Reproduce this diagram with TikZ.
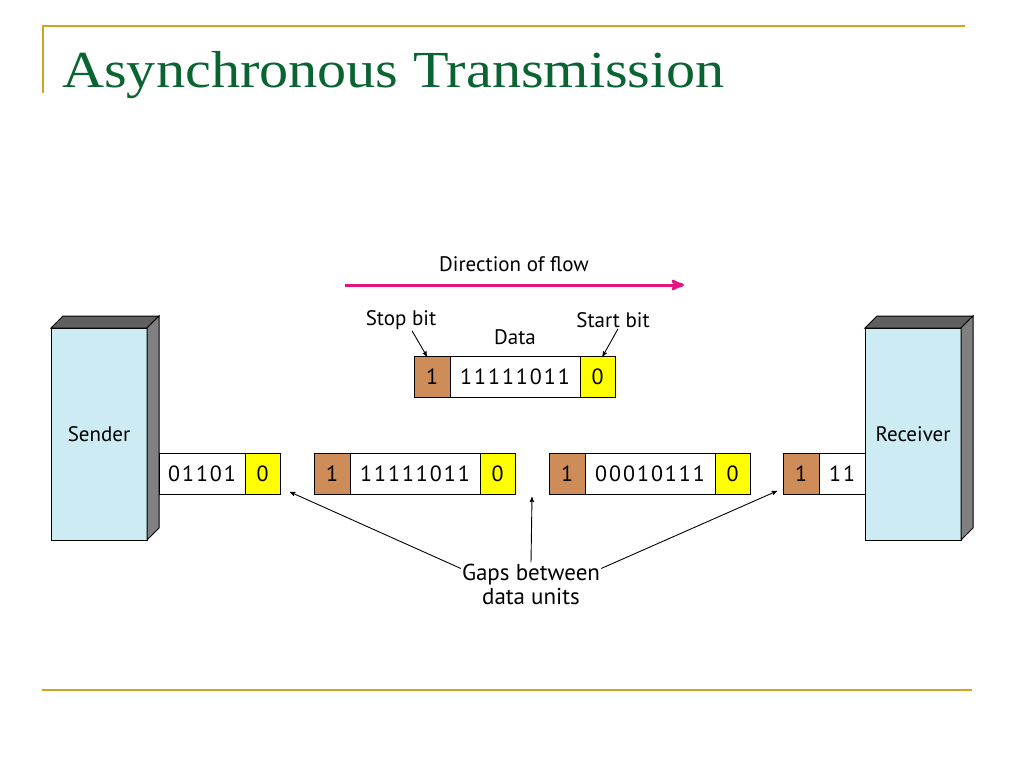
\documentclass[tikz,border=0pt]{standalone}
\usepackage{fontspec}
\setmainfont{Liberation Serif}
\newfontfamily\figfont{PT Sans}
\newfontfamily\bitfont[LetterSpace=9]{PT Sans}
\usetikzlibrary{arrows,positioning}
\definecolor{slidegold}{RGB}{214,160,32}
\definecolor{titlegreen}{RGB}{10,100,50}
\definecolor{flowpink}{RGB}{228,20,128}
\definecolor{stopbrown}{RGB}{206,140,88}
\definecolor{startyellow}{RGB}{255,255,0}
\definecolor{boxblue}{RGB}{205,235,242}
\tikzset{goldline/.style={draw=slidegold, line width=2.5pt},
        cell/.style={ % one bit field of a frame
            draw, line width=1pt,
            minimum height=41pt,
            inner sep=0pt, outer sep=0pt,
            font=\bitfont\fontsize{22}{24}\selectfont},
        stopcell/.style={cell, fill=stopbrown, minimum width=36pt},
        startcell/.style={cell, fill=startyellow, minimum width=35pt},
        datacell/.style={cell, fill=white, minimum width=130pt},
        device/.style={ % front face of sender / receiver
            draw, line width=1pt, fill=boxblue,
            minimum width=96pt, minimum height=212pt,
            inner sep=0pt, outer sep=0pt,
            font=\figfont\fontsize{21}{24}\selectfont},
        txt/.style={inner sep=1pt, font=\figfont\fontsize{21}{24}\selectfont},
        pointer/.style={->, >=stealth', line width=0.9pt}
        }

\begin{document}
\begin{tikzpicture}[x=1pt,y=-1pt]
    \useasboundingbox (0,0) rectangle (1024,768);

    % slide frame and title
    \coordinate (gtl) at (43,26);
    \coordinate (gtr) at (965,26);
    \coordinate (gvl) at (43,93);
    \coordinate (gbl) at (42,690);
    \coordinate (gbr) at (972,690);
    \draw[goldline] (gvl) -- (gtl) -- (gtr);
    \draw[goldline] (gbl) -- (gbr);
    \node[anchor=base west, inner sep=0pt, text=titlegreen] (title) at (62,87)
        {\scalebox{1.12}[1]{\fontsize{52}{56}\selectfont Asynchronous Transmission}};

    % direction of flow
    \coordinate (flowA) at (345,285);
    \coordinate (flowB) at (684,285);
    \draw[->, >=stealth', draw=flowpink, line width=3pt] (flowA) -- (flowB);
    \node[txt] (flowtxt) at (514,264) {Direction of flow};

    % one frame with its parts named
    \node[stopcell] (t1) at (432,377) {1};
    \node[datacell, right=0pt of t1] (t2) {11111011};
    \node[startcell, right=0pt of t2] (t3) {0};
    \node[txt] (stoptxt) at (401,320) {Stop bit};
    \node[txt] (starttxt) at (613,320) {Start bit};
    \node[txt] (datatxt) at (515,337) {Data};
    \draw[pointer] ([xshift=11pt]stoptxt.south) -- ([xshift=-5pt]t1.north);
    \draw[pointer] ([xshift=5pt]starttxt.south) -- ([xshift=5pt]t3.north);

    % sender
    \node[device] (snd) at (99,434) {Sender};
    \fill[gray!75!black, draw=black, line width=1pt] (snd.north west) -- ++(12,-12) -- ++(96,0) -- (snd.north east) -- cycle;
    \fill[gray, draw=black, line width=1pt] (snd.north east) -- ++(12,-12) -- ++(0,212) -- (snd.south east) -- cycle;
    \node[datacell, minimum width=86pt] (a2) at (202,473.5) {01101};
    \node[startcell, right=0pt of a2] (a3) {0};

    % frames on the line
    \node[stopcell] (b1) at (332,473.5) {1};
    \node[datacell, right=0pt of b1] (b2) {11111011};
    \node[startcell, right=0pt of b2] (b3) {0};

    \node[stopcell] (c1) at (567,473.5) {1};
    \node[datacell, right=0pt of c1] (c2) {00010111};
    \node[startcell, right=0pt of c2] (c3) {0};

    % receiver
    \node[stopcell] (d1) at (801,473.5) {1};
    \node[datacell, minimum width=46pt, right=0pt of d1] (d2) {11};
    \node[device] (rcv) at (913,434) {Receiver};
    \fill[gray!75!black, draw=black, line width=1pt] (rcv.north west) -- ++(12,-12) -- ++(96,0) -- (rcv.north east) -- cycle;
    \fill[gray, draw=black, line width=1pt] (rcv.north east) -- ++(12,-12) -- ++(0,212) -- (rcv.south east) -- cycle;

    % gaps
    \node[txt, align=center, font=\figfont\fontsize{23}{24}\selectfont] (gaps) at (531,584) {Gaps between\\data units};
    \coordinate (gapL) at (290,492);
    \coordinate (gapM) at (532,497);
    \coordinate (gapR) at (777,491);
    \draw[pointer] ([yshift=-6pt]gaps.north west) -- (gapL);
    \draw[pointer] (gaps.north) -- (gapM);
    \draw[pointer] ([yshift=-6pt]gaps.north east) -- (gapR);
\end{tikzpicture}
\end{document}
